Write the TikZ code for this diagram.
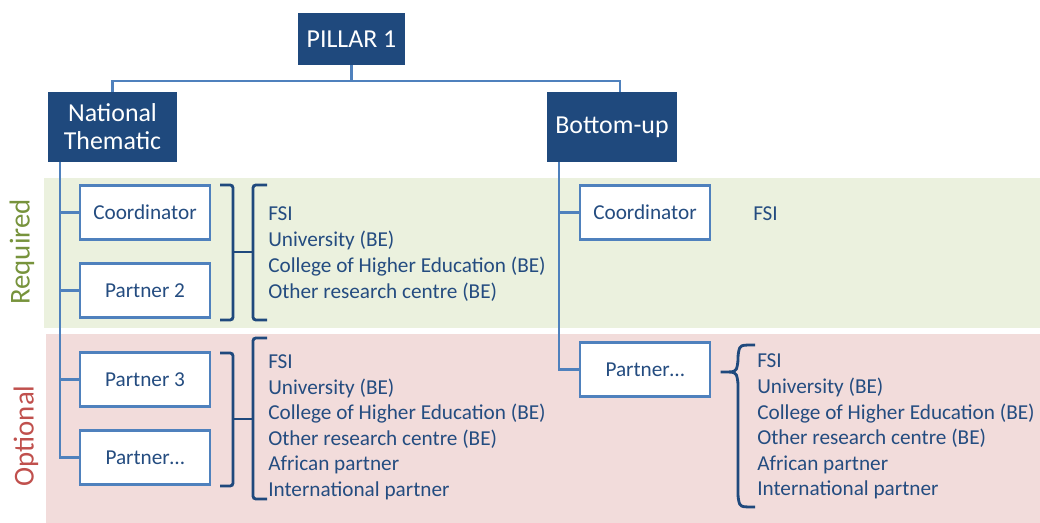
\documentclass[tikz,border=0pt]{standalone}
\usepackage{fontspec}
\setmainfont{Carlito}
\usetikzlibrary{positioning}
\definecolor{PillarBlue}{HTML}{1F497D}
\definecolor{PillarLine}{HTML}{4F81BD}
\definecolor{PillarText}{HTML}{244C80}
\definecolor{ReqGreen}{HTML}{77933C}
\definecolor{ReqBand}{HTML}{EBF1DE}
\definecolor{OptRed}{HTML}{C0504D}
\definecolor{OptBand}{HTML}{F2DCDB}
\def\reqitems{FSI, University (BE), College of Higher Education (BE), Other research centre (BE)}
\def\optitems{FSI, University (BE), College of Higher Education (BE), Other research centre (BE), African partner, International partner}

\begin{document}
\begin{tikzpicture}[x=0.025cm, y=-0.025cm,
    headbox/.style={fill=PillarBlue, text=white, font=\fontsize{18.4}{20}\selectfont, align=center, inner sep=0pt},
    rolebox/.style={draw=PillarLine, line width=1.7pt, fill=white, text=PillarText, font=\fontsize{15.1}{16}\selectfont, minimum width=3.25cm, minimum height=1.35cm, inner sep=0pt},
    conn/.style={PillarLine, line width=1.7pt},
    bracket/.style={PillarBlue, line width=2pt, rounded corners=2pt},
    item/.style={text=PillarText, font=\fontsize{15.1}{16}\selectfont, anchor=base west, inner sep=0pt},
    bandlabel/.style={rotate=90, font=\fontsize{20.5}{22}\selectfont}]
    \useasboundingbox (0,0) rectangle (1040,523);

    % Bands
    \fill[ReqBand] (44,178) rectangle (1040,328);
    \fill[OptBand] (46,334) rectangle (1040,523);
    \node[bandlabel, text=ReqGreen] (req) at (22,252) {Required};
    \node[bandlabel, text=OptRed] (opt) at (26,436) {Optional};

    % Heads
    \node[headbox, minimum width=2.675cm, minimum height=1.3cm] (pillar) at (351.5,39) {PILLAR 1};
    \node[headbox, minimum width=3.225cm, minimum height=1.75cm] (nat) at (112.5,127) {National\\Thematic};
    \node[headbox, minimum width=3.25cm, minimum height=1.75cm] (bot) at (612,127) {Bottom-up};
    \draw[conn] (pillar.south) -- ++(0,16) coordinate (fork) -| (nat.north);
    \draw[conn] (fork) -| ([shift={(8,0)}]bot.north);

    % National thematic
    \node[rolebox] (coordA) at (145,212.5) {Coordinator};
    \node[rolebox] (partA2) at (145,290.5) {Partner 2};
    \node[rolebox] (partA3) at (145,379.5) {Partner 3};
    \node[rolebox] (partAn) at (145,457.5) {Partner\ldots};
    \draw[conn] ([shift={(12,0)}]nat.south west) |- (partAn.west);
    \foreach \n in {coordA, partA2, partA3}
        \draw[conn] (\n.west) -- ++(-19,0);

    % Bottom-up
    \node[rolebox] (coordB) at (645,212.5) {Coordinator};
    \node[rolebox] (partBn) at (645,369.5) {Partner\ldots};
    \draw[conn] ([shift={(12,0)}]bot.south west) |- (partBn.west);
    \draw[conn] (coordB.west) -- ++(-20,0);

    % Brackets
    \draw[bracket] (220,185) -- (233,185) -- (233,320) -- (220,320);
    \draw[bracket] (233,252) -- (253,252);
    \draw[bracket] (267,185) -- (253,185) -- (253,320) -- (267,320);
    \draw[bracket] (220,353) -- (233,353) -- (233,486) -- (220,486);
    \draw[bracket] (233,419) -- (253,419);
    \draw[bracket] (267,338) -- (253,338) -- (253,499) -- (267,499);
    \draw[bracket] (755,345) .. controls (740,345) .. (738,355) -- (738,362)
        .. controls (736,372) .. (719,372) .. controls (736,372) .. (738,382)
        -- (738,497) .. controls (740,507) .. (755,507);

    % Lists
    \foreach \t [count=\i from 0] in \reqitems
        \node[item] (reqA\i) at (268,221+25.7*\i) {\t};
    \foreach \t [count=\i from 0] in \optitems
        \node[item] (optA\i) at (268,369+25.5*\i) {\t};
    \node[item] (reqB0) at (753,221) {FSI};
    \foreach \t [count=\i from 0] in \optitems
        \node[item] (optB\i) at (757,368+25.6*\i) {\t};
\end{tikzpicture}
\end{document}
